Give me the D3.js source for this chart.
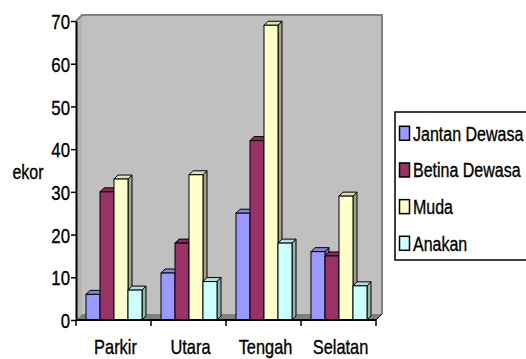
<!DOCTYPE html>
<html>
<head>
<meta charset="utf-8">
<script src="https://cdn.jsdelivr.net/npm/d3@7"></script>
<style>
  html, body { margin: 0; padding: 0; background: #ffffff; }
  svg { display: block; }
  text { font-family: "Liberation Sans", Arial, sans-serif; fill: #000; stroke: #000; stroke-width: 0.35px; }
</style>
</head>
<body>
<svg id="chart" width="526" height="359"></svg>
<script>
// Population counts per location (ekor = head count)
const categories = ["Parkir", "Utara", "Tengah", "Selatan"];
const seriesNames = ["Jantan Dewasa", "Betina Dewasa", "Muda", "Anakan"];
const jantanDewasa = [6, 11, 25, 16];
const betinaDewasa = [30, 18, 42, 15];
const muda = [33, 34, 69, 29];
const anakan = [7, 9, 18, 8];
const yTicks = [0, 10, 20, 30, 40, 50, 60, 70];
const yLabel = "ekor";

const seriesValues = [jantanDewasa, betinaDewasa, muda, anakan];
const frontColors = ["#9999ff", "#993366", "#ffffcc", "#ccffff"];
const sideColors = ["#6b6bb3", "#6b2447", "#a3a383", "#8fb3b3"];
const topColors = ["#8585e0", "#862d59", "#e0e0b3", "#b3e0e0"];

const svg = d3.select("#chart");

// Plot frame
const plotL = 76, plotR = 376, plotB = 320, plotT = 21;
const depth = 6;      // wall / floor depth
const bd = 4;         // bar depth

const y = d3.scaleLinear().domain([0, 70]).range([plotB, plotT]);
const x0 = d3.scaleBand().domain(categories).range([plotL, plotR]).padding(0);
const x1 = d3.scaleBand().domain(seriesNames).range([10, 66]).padding(0);

// Back wall
svg.append("polygon")
  .attr("points", [[plotL + depth, plotT - depth], [plotR + depth, plotT - depth], [plotR + depth, plotB - depth], [plotL + depth, plotB - depth]].join(" "))
  .attr("fill", "#c0c0c0");
// Left side wall
svg.append("polygon")
  .attr("points", [[plotL, plotT], [plotL + depth, plotT - depth], [plotL + depth, plotB - depth], [plotL, plotB]].join(" "))
  .attr("fill", "#b4b4b4");
// Wall border (top and right)
svg.append("polyline")
  .attr("points", [[plotL, plotT], [plotL + depth, plotT - depth], [plotR + depth, plotT - depth], [plotR + depth, plotB - depth]].join(" "))
  .attr("fill", "none").attr("stroke", "#808080").attr("stroke-width", 2);
// Floor
svg.append("polygon")
  .attr("points", [[plotL, plotB], [plotR, plotB], [plotR + depth, plotB - depth], [plotL + depth, plotB - depth]].join(" "))
  .attr("fill", "#808080");
svg.append("line")
  .attr("x1", plotR).attr("y1", plotB).attr("x2", plotR + depth).attr("y2", plotB - depth)
  .attr("stroke", "#000").attr("stroke-width", 1);

// Bars (3D: side, top, front)
const barsG = svg.append("g");
categories.forEach((cat, ci) => {
  seriesNames.forEach((s, si) => {
    const v = seriesValues[si][ci];
    const bx = x0(cat) + x1(s);
    const w = x1.bandwidth();
    const by = y(v);
    const g = barsG.append("g");
    g.append("polygon")
      .attr("points", [[bx + w, by], [bx + w + bd, by - bd], [bx + w + bd, plotB - bd], [bx + w, plotB]].join(" "))
      .attr("fill", sideColors[si]).attr("stroke", "#000").attr("stroke-width", 1).attr("stroke-linejoin", "round");
    g.append("polygon")
      .attr("points", [[bx, by], [bx + bd, by - bd], [bx + w + bd, by - bd], [bx + w, by]].join(" "))
      .attr("fill", topColors[si]).attr("stroke", "#000").attr("stroke-width", 1).attr("stroke-linejoin", "round");
    g.append("rect")
      .attr("x", bx).attr("y", by).attr("width", w).attr("height", plotB - by)
      .attr("fill", frontColors[si]).attr("stroke", "#000").attr("stroke-width", 1);
  });
});

// Y axis
const yAxis = d3.axisLeft(y).tickValues(yTicks).tickSize(5).tickSizeOuter(0).tickFormat(d3.format("d"));
const yG = svg.append("g").attr("transform", `translate(${plotL},0)`).call(yAxis);
yG.select(".domain").attr("stroke", "#000").attr("stroke-width", 2);
yG.selectAll(".tick line").attr("stroke", "#000").attr("stroke-width", 1.5);
yG.selectAll(".tick text").remove();
yG.selectAll(".tick").append("g")
  .attr("transform", "translate(-6,0) scale(0.8,1)")
  .append("text")
  .attr("text-anchor", "end").attr("dy", "0.36em")
  .style("font-size", "21px")
  .text(d => d);

// X axis (ticks on category boundaries)
svg.append("line")
  .attr("x1", plotL).attr("x2", plotR).attr("y1", plotB).attr("y2", plotB)
  .attr("stroke", "#000").attr("stroke-width", 2);
const boundaries = categories.map(c => x0(c)).concat([plotR]);
svg.selectAll(".xtick").data(boundaries).enter().append("line")
  .attr("x1", d => d).attr("x2", d => d).attr("y1", plotB).attr("y2", plotB + 6)
  .attr("stroke", "#000").attr("stroke-width", 1.5);
svg.selectAll(".xlab").data(categories).enter().append("g")
  .attr("transform", d => `translate(${x0(d) + x0.bandwidth() / 2 + 2},354) scale(0.82,1)`)
  .append("text").attr("text-anchor", "middle").style("font-size", "20px").text(d => d);

// Axis title
svg.append("g").attr("transform", "translate(28,179) scale(0.8,1)")
  .append("text").attr("text-anchor", "middle").style("font-size", "20px").text(yLabel);

// Legend
const lg = svg.append("g");
lg.append("rect").attr("x", 395).attr("y", 112).attr("width", 150).attr("height", 148)
  .attr("fill", "#fff").attr("stroke", "#000").attr("stroke-width", 1.5);
const rowY = d3.scalePoint().domain(seriesNames).range([133.3, 243.3]);
seriesNames.forEach((s, i) => {
  const cy = rowY(s);
  lg.append("rect").attr("x", 399.5).attr("y", cy - 7).attr("width", 10).attr("height", 14)
    .attr("fill", frontColors[i]).attr("stroke", "#000").attr("stroke-width", 1.5);
  lg.append("g").attr("transform", `translate(413,${cy}) scale(0.8,1)`)
    .append("text").attr("dy", "0.36em").style("font-size", "20px").text(s);
});
</script>
</body>
</html>
